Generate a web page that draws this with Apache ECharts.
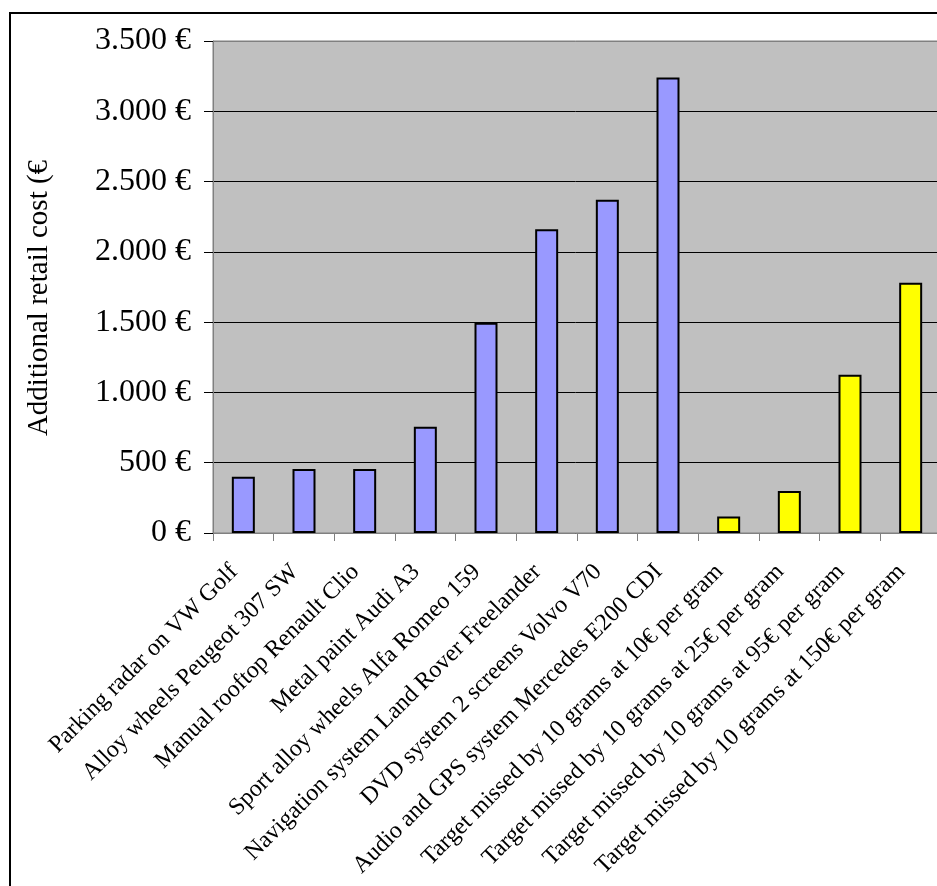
<!DOCTYPE html>
<html>
<head>
<meta charset="utf-8">
<script src="https://cdn.jsdelivr.net/npm/echarts@6/dist/echarts.min.js"></script>
<style>
html,body{margin:0;padding:0;background:#fff;}
#chart{width:937px;height:886px;}
</style>
</head>
<body>
<div id="chart"></div>
<script>
const categories = [
  "Parking radar on VW Golf",
  "Alloy wheels Peugeot 307 SW",
  "Manual rooftop Renault Clio",
  "Metal paint Audi A3",
  "Sport alloy wheels Alfa Romeo 159",
  "Navigation system Land Rover Freelander",
  "DVD system 2 screens Volvo V70",
  "Audio and GPS system Mercedes E200 CDI",
  "Target missed by 10 grams at 10€ per gram",
  "Target missed by 10 grams at 25€ per gram",
  "Target missed by 10 grams at 95€ per gram",
  "Target missed by 10 grams at 150€ per gram"
];
const optionCosts  = [400, 455, 455, 755, 1495, 2160, 2370, 3240, null, null, null, null];
const penaltyCosts = [null, null, null, null, null, null, null, null, 118, 298, 1125, 1780];
const yTicks = [0, 500, 1000, 1500, 2000, 2500, 3000, 3500];
const yTitle = "Additional retail cost (€";

const serif = "'Liberation Serif', 'Times New Roman', serif";
const chart = echarts.init(document.getElementById('chart'), null, {renderer: 'canvas'});

function fmt(v) {
  const s = String(v);
  return (s.length > 3 ? s.slice(0, s.length - 3) + '.' + s.slice(-3) : s) + ' €';
}

const splitColors = yTicks.map((t, i) => i === yTicks.length - 1 ? '#808080' : '#000000');

chart.setOption({
  animation: false,
  backgroundColor: '#ffffff',
  graphic: [{
    type: 'rect',
    shape: {x: 10, y: 13, width: 2000, height: 2000},
    style: {fill: 'none', stroke: '#000', lineWidth: 2},
    silent: true,
    z: 100
  }],
  grid: {
    left: 213, top: 41, right: -4, bottom: 353,
    show: true, backgroundColor: '#C0C0C0', borderColor: '#808080', borderWidth: 1,
    containLabel: false,
    outerBoundsMode: 'none'
  },
  xAxis: {
    type: 'category',
    data: categories,
    axisLine: {show: true, lineStyle: {color: '#808080', width: 1}},
    axisTick: {show: true, length: 8, alignWithLabel: false, lineStyle: {color: '#808080'}},
    axisLabel: {
      interval: 0, rotate: 45, margin: 26, padding: [0, 13, 0, 0],
      fontFamily: serif, fontSize: 24, color: '#000'
    },
    splitLine: {show: false}
  },
  yAxis: {
    type: 'value',
    min: yTicks[0], max: yTicks[yTicks.length - 1], interval: 500,
    name: yTitle,
    nameLocation: 'middle',
    nameGap: 159,
    nameRotate: 90,
    nameTextStyle: {fontFamily: serif, fontSize: 29, color: '#000', padding: [0, 22, 0, 0]},
    axisLine: {show: true, lineStyle: {color: '#808080', width: 1}},
    axisTick: {show: true, length: 9, lineStyle: {color: '#000'}},
    axisLabel: {
      margin: 22, fontFamily: serif, fontSize: 32, color: '#000',
      formatter: fmt
    },
    splitLine: {show: true, lineStyle: {color: splitColors, width: 1}}
  },
  series: [
    {
      type: 'bar', stack: 'cost', data: optionCosts, barWidth: 23,
      itemStyle: {color: '#9999FF', borderColor: '#000', borderWidth: 2}
    },
    {
      type: 'bar', stack: 'cost', data: penaltyCosts, barWidth: 23,
      itemStyle: {color: '#FFFF00', borderColor: '#000', borderWidth: 2}
    }
  ]
});
</script>
</body>
</html>
